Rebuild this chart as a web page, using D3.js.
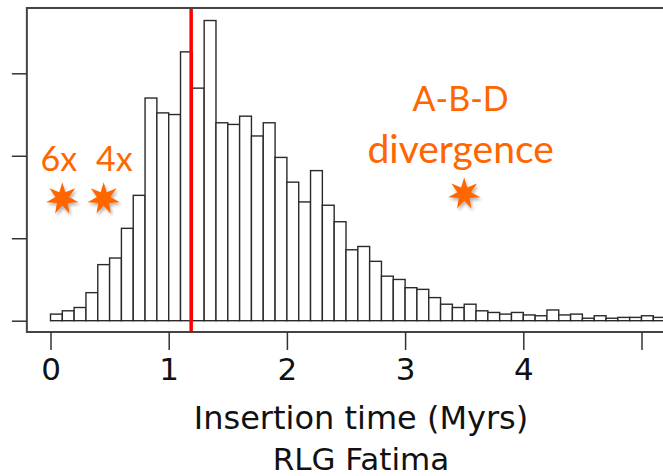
<!DOCTYPE html>
<html>
<head>
<meta charset="utf-8">
<script src="https://cdn.jsdelivr.net/npm/d3@7"></script>
<style>
  body { margin: 0; background: #fff; }
  svg { display: block; }
</style>
</head>
<body>
<svg></svg>
<script>
'use strict';

var SVG_SIZE = {width: 663, height: 476};

// histogram of insertion times, bins of 0.1 Myr starting at 0
var binWidth = 0.1;
var counts = [4, 6, 8, 17, 34, 38, 56, 76, 135, 126,
              125, 163, 141, 182, 120, 119, 124, 112, 120, 99,
              84, 72, 91, 70, 60, 43, 45, 36, 27, 25,
              20, 19, 14, 10, 8, 10, 6, 5, 4, 5,
              3.5, 3, 6.5, 3.5, 4, 1.5, 3, 1.5, 2, 2,
              3, 2];

var xTicks = [0, 1, 2, 3, 4, 5];
var yTicks = [0, 50, 100, 150];
var medianTime = 1.19;

// orange stars (time, count) and their labels
var starTimes = [0.1, 0.45, 3.5];
var starCounts = [74, 74, 77];
var noteTexts = ['6x', '4x', 'A-B-D', 'divergence'];
var noteTimes = [0.07, 0.54, 3.47, 3.47];
var noteCounts = [91, 91, 127, 95.5];
var noteSizes = [34, 34, 34, 39];

var svg = d3.select('svg')
  .attr('width', SVG_SIZE.width).attr('height', SVG_SIZE.height);

// scales (R style: range padded 4% on each side)
var xScale = d3.scaleLinear().domain([0, 5]).range([50.5, 641.5]);
var yScale = d3.scaleLinear().domain([0, 150]).range([320.7, 73.3]);

var boxLeft = xScale(-0.2), boxRight = xScale(5.2);
var boxTop = yScale(189.6), boxBottom = 332;

var defs = svg.append('defs');
var shadow = defs.append('filter').attr('id', 'shadow')
  .attr('x', '-50%').attr('y', '-50%').attr('width', '200%').attr('height', '200%');
shadow.append('feDropShadow')
  .attr('dx', 1.5).attr('dy', 2.5).attr('stdDeviation', 1.5)
  .attr('flood-color', '#000').attr('flood-opacity', 0.3);

// bars
svg.append('g').selectAll('rect').data(counts).enter().append('rect')
  .attr('x', function(d, i){ return xScale(i * binWidth); })
  .attr('y', function(d){ return yScale(d); })
  .attr('width', function(d, i){ return xScale((i + 1) * binWidth) - xScale(i * binWidth); })
  .attr('height', function(d){ return yScale(0) - yScale(d); })
  .attr('fill', '#fff')
  .attr('stroke', '#2a2a2a')
  .attr('stroke-width', 1.4);

// red line
svg.append('line')
  .attr('x1', xScale(medianTime)).attr('x2', xScale(medianTime))
  .attr('y1', boxTop).attr('y2', boxBottom)
  .attr('stroke', '#ff0000').attr('stroke-width', 3.5);

// frame
svg.append('rect')
  .attr('x', boxLeft).attr('y', boxTop)
  .attr('width', boxRight - boxLeft).attr('height', boxBottom - boxTop)
  .attr('fill', 'none').attr('stroke', '#444').attr('stroke-width', 2);

// axes
var yAxis = d3.axisLeft(yScale).tickValues(yTicks).tickSize(15).tickFormat('');
var yG = svg.append('g')
  .attr('transform', 'translate(' + boxLeft + ',0)')
  .call(yAxis);
yG.select('.domain').remove();
yG.selectAll('.tick line').attr('stroke', '#333').attr('stroke-width', 1.5);

var xAxis = d3.axisBottom(xScale).tickValues(xTicks).tickSize(18).tickPadding(8)
  .tickFormat(function(d){ return d < 5 ? d : ''; });
var xG = svg.append('g')
  .attr('transform', 'translate(0,' + boxBottom + ')')
  .call(xAxis);
xG.select('.domain').remove();
xG.selectAll('.tick line').attr('stroke', '#333').attr('stroke-width', 1.5);
xG.selectAll('.tick text')
  .attr('fill', '#111')
  .style('font-family', 'DejaVu Sans, Verdana, sans-serif')
  .style('font-size', '31px');

svg.append('text')
  .text('Insertion time (Myrs)')
  .attr('x', 361).attr('y', 429)
  .attr('text-anchor', 'middle')
  .attr('fill', '#111')
  .style('font-family', 'DejaVu Sans, Verdana, sans-serif')
  .style('font-size', '32px');
svg.append('text')
  .text('RLG Fatima')
  .attr('x', 361).attr('y', 470)
  .attr('text-anchor', 'middle')
  .attr('fill', '#111')
  .style('font-family', 'DejaVu Sans, Verdana, sans-serif')
  .style('font-size', '31px');

// 7-point stars
var starPoints = d3.range(14).map(function(i){
  return [i * Math.PI / 7, i % 2 === 0 ? 16.5 : 7];
});
var star = d3.lineRadial().curve(d3.curveLinearClosed);

var orange = '#ff6600';

svg.append('g').selectAll('path').data(starTimes).enter().append('path')
  .attr('d', star(starPoints))
  .attr('transform', function(d, i){ return 'translate(' + xScale(d) + ',' + yScale(starCounts[i]) + ')'; })
  .attr('fill', orange)
  .attr('filter', 'url(#shadow)');

svg.append('g').selectAll('text').data(noteTexts).enter().append('text')
  .text(function(d){ return d; })
  .attr('x', function(d, i){ return xScale(noteTimes[i]); })
  .attr('y', function(d, i){ return yScale(noteCounts[i]); })
  .attr('text-anchor', 'middle')
  .attr('fill', orange)
  .style('font-family', 'Lato, Open Sans, sans-serif')
  .style('font-size', function(d, i){ return noteSizes[i] + 'px'; });
</script>
</body>
</html>
